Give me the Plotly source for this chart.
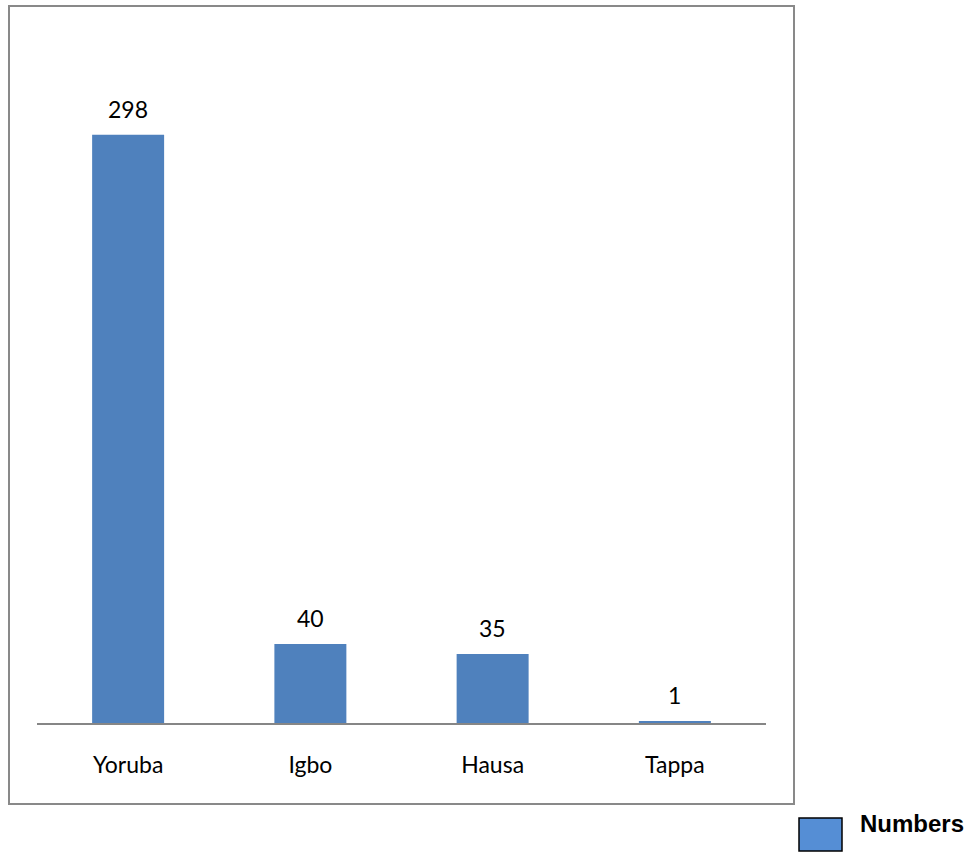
import plotly.graph_objects as go

categories = ["Yoruba", "Igbo", "Hausa", "Tappa"]
values = [298, 40, 35, 1]
series_name = "Numbers"

W, H = 973, 852
L, R, T, B = 37, 207, 32, 129
ymax = 350
pw = W - L - R
ph = H - T - B

def px_x(px):
    return (px - L) / pw

def px_y(py):
    return (H - B - py) / ph

fig = go.Figure()
fig.add_trace(go.Bar(
    x=categories, y=values, name=series_name,
    marker=dict(color="#4F81BD", line=dict(width=0)),
    showlegend=False,
))

for c, v in zip(categories, values):
    fig.add_annotation(x=c, y=v, text=str(v), showarrow=False,
                       yanchor="bottom", yshift=10,
                       font=dict(family="Lato, Open Sans, sans-serif", size=23, color="#000000"))

# outer border
fig.add_shape(type="rect", xref="paper", yref="paper",
              x0=px_x(9), x1=px_x(794), y0=px_y(804), y1=px_y(6),
              line=dict(color="#898989", width=2), fillcolor="rgba(0,0,0,0)", layer="below")

# legend
fig.add_shape(type="rect", xref="paper", yref="paper",
              x0=px_x(799), x1=px_x(842), y0=px_y(851), y1=px_y(818),
              line=dict(color="#000000", width=1.5), fillcolor="#558ED5")
fig.add_annotation(xref="paper", yref="paper", x=px_x(858), y=px_y(823),
                   text="<b>" + series_name + "</b>", showarrow=False,
                   xanchor="left", yanchor="middle",
                   font=dict(family="Liberation Sans, Arial, sans-serif", size=24, color="#000000"))

fig.update_layout(
    width=W, height=H,
    margin=dict(l=L, r=R, t=T, b=B),
    paper_bgcolor="white", plot_bgcolor="white",
    bargap=0.605,
    font=dict(family="Lato, Open Sans, sans-serif", size=23, color="#000000"),
    xaxis=dict(showline=True, linecolor="#868686", linewidth=2, showgrid=False,
               ticks="", ticklabelstandoff=20, zeroline=False),
    yaxis=dict(range=[0, ymax], visible=False, showgrid=False, zeroline=False),
)

fig.write_html("out.html")
